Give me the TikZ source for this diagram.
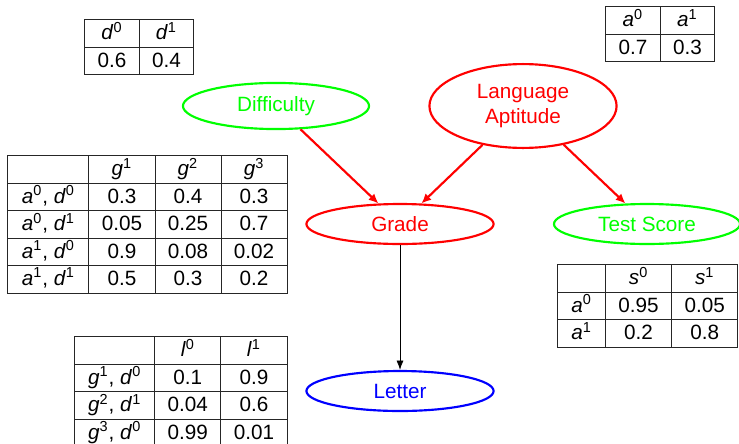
\documentclass[tikz,border=0pt]{standalone}
\usepackage{fontspec}
\setmainfont{Liberation Sans}
\usepackage{tikz}
\usetikzlibrary{arrows.meta}
\usetikzlibrary{shapes.geometric}
\usetikzlibrary{matrix}
\newcommand{\stt}[2]{\textit{#1}\textsuperscript{#2}}

\begin{document}
\begin{tikzpicture}[
    x=0.018cm, y=-0.018cm,
    every node/.style={font=\fontsize{10.6}{12.7}\selectfont},
    var/.style={ellipse, line width=1.1pt, inner sep=0pt, minimum width=3.37cm, minimum height=0.72cm},
    cpt/.style={matrix of nodes, nodes in empty cells, inner sep=0pt,
        column sep=-\pgflinewidth, row sep=-\pgflinewidth,
        nodes={draw=black!85, minimum width=1.19cm, minimum height=0.495cm,
            inner sep=0pt, text height=8.4pt, text depth=2pt}},
    edge/.style={red, line width=1.1pt, -{Latex[length=5pt, width=4.5pt]}}]

\useasboundingbox (0,0) rectangle (739,443);

% Variables
\node[var, draw=green, text=green, minimum width=3.35cm, minimum height=0.83cm] (difficulty) at (276,106) {Difficulty};
\node[var, draw=red, text=red, minimum height=1.51cm, align=center] (aptitude) at (523,106) {Language\\Aptitude};
\node[var, draw=red, text=red] (grade) at (400,224) {Grade};
\node[var, draw=green, text=green, minimum width=3.35cm] (score) at (647,224) {Test Score};
\node[var, draw=blue, text=blue] (letter) at (400,391) {Letter};

% Arrows
\draw[edge] (difficulty) -- (grade);
\draw[edge] (aptitude) -- (grade);
\draw[edge] (aptitude) -- (score);
\draw[-{Latex}] (grade) -- (letter);

% Tables
\matrix[cpt, anchor=north west, nodes={minimum width=0.98cm}] (pd) at (84,19) {
    \stt{d}{0} & \stt{d}{1} \\
    0.6 & 0.4 \\
};
\matrix[cpt, anchor=north west, nodes={minimum width=0.98cm}] (pa) at (605,6) {
    \stt{a}{0} & \stt{a}{1} \\
    0.7 & 0.3 \\
};
\matrix[cpt, anchor=north west, column 1/.style={nodes={minimum width=1.46cm}}] (pg) at (7,155) {
    & \stt{g}{1} & \stt{g}{2} & \stt{g}{3} \\
    \stt{a}{0}, \stt{d}{0} & 0.3 & 0.4 & 0.3 \\
    \stt{a}{0}, \stt{d}{1} & 0.05 & 0.25 & 0.7 \\
    \stt{a}{1}, \stt{d}{0} & 0.9 & 0.08 & 0.02 \\
    \stt{a}{1}, \stt{d}{1} & 0.5 & 0.3 & 0.2 \\
};
\matrix[cpt, anchor=north west, column 1/.style={nodes={minimum width=0.86cm}}] (ps) at (557,264) {
    & \stt{s}{0} & \stt{s}{1} \\
    \stt{a}{0} & 0.95 & 0.05 \\
    \stt{a}{1} & 0.2 & 0.8 \\
};
\matrix[cpt, anchor=north west, column 1/.style={nodes={minimum width=1.44cm}}] (pl) at (74,336) {
    & \stt{l}{0} & \stt{l}{1} \\
    \stt{g}{1}, \stt{d}{0} & 0.1 & 0.9 \\
    \stt{g}{2}, \stt{d}{1} & 0.04 & 0.6 \\
    \stt{g}{3}, \stt{d}{0} & 0.99 & 0.01 \\
};
\end{tikzpicture}
\end{document}
